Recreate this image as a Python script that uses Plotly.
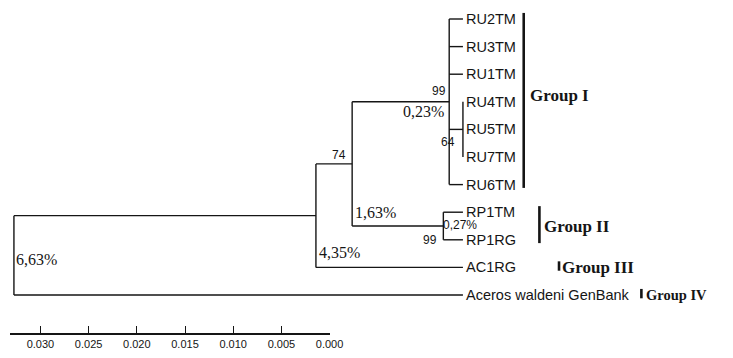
import plotly.graph_objects as go

# ---------------- data ----------------
leaves = ["RU2TM", "RU3TM", "RU1TM", "RU4TM", "RU5TM", "RU7TM", "RU6TM",
          "RP1TM", "RP1RG", "AC1RG", "Aceros waldeni GenBank"]

node_names = ["RU4-7", "RU", "RP", "N74", "N435", "root"]
node_depths = [0.0, 0.00143, 0.00204, 0.01153, 0.0153, 0.04673]
node_children = [
    ["RU4TM", "RU5TM", "RU7TM"],
    ["RU2TM", "RU3TM", "RU1TM", "RU4-7", "RU6TM"],
    ["RP1TM", "RP1RG"],
    ["RU", "RP"],
    ["N74", "AC1RG"],
    ["N435", "Aceros waldeni GenBank"],
]

bootstrap_nodes = ["RU", "RU4-7", "N74", "RP"]
bootstrap_values = ["99", "64", "74", "99"]

divergence_nodes = ["RU", "RP", "N74", "N435", "root"]
divergence_labels = ["0,23%", "0,27%", "1,63%", "4,35%", "6,63%"]

group_names = ["Group I", "Group II", "Group III", "Group IV"]
group_first = ["RU2TM", "RP1TM", "AC1RG", "Aceros waldeni GenBank"]
group_last = ["RU6TM", "RP1RG", "AC1RG", "Aceros waldeni GenBank"]

scale_ticks = [0.030, 0.025, 0.020, 0.015, 0.010, 0.005, 0.000]
scale_labels = ["0.030", "0.025", "0.020", "0.015", "0.010", "0.005", "0.000"]

# ---------------- geometry helpers ----------------
# The page body has an 8px margin; the figure is sized so that page == window.
OFF = 8
W, H = 733 - 2 * OFF, 358 - 2 * OFF


def px_x(p):
    return (p - OFF) / W


def px_y(p):
    return 1 - (p - OFF) / H


# ---------------- layout of tree ----------------
depth = {name: 0.0 for name in leaves}
ypos = {name: i for i, name in enumerate(leaves)}
children = {}
for n, d, ch in zip(node_names, node_depths, node_children):
    depth[n] = d
    children[n] = ch
    ypos[n] = (ypos[ch[0]] + ypos[ch[-1]]) / 2.0

xs, ys = [], []
for n in node_names:
    ch = children[n]
    xs += [depth[n], depth[n], None]
    ys += [ypos[ch[0]], ypos[ch[-1]], None]
    for c in ch:
        xs += [depth[n], depth[c], None]
        ys += [ypos[c], ypos[c], None]

INK = "#151515"
fig = go.Figure()
fig.add_trace(go.Scatter(x=xs, y=ys, mode="lines",
                         line=dict(color=INK, width=1.4),
                         hoverinfo="skip", showlegend=False))
# invisible trace carrying the scale axis
fig.add_trace(go.Scatter(x=scale_ticks, y=[ypos[leaves[-1]]] * len(scale_ticks),
                         xaxis="x2", yaxis="y", mode="markers",
                         marker=dict(opacity=0), hoverinfo="skip", showlegend=False))

ann = []
SANS = "Liberation Sans, Arial, sans-serif"
SERIF = "Liberation Serif, Times New Roman, serif"

for name in leaves:
    ann.append(dict(x=depth[name], y=ypos[name], text=name, xanchor="left",
                    yanchor="middle", xshift=1, showarrow=False,
                    font=dict(family=SANS, size=14.5, color=INK)))

bs_style = {
    "RU": dict(xanchor="right", yanchor="bottom", xshift=-1, yshift=2),
    "RU4-7": dict(xanchor="right", yanchor="top", xshift=-6, yshift=-4),
    "N74": dict(xanchor="right", yanchor="bottom", xshift=-4, yshift=0),
    "RP": dict(xanchor="right", yanchor="middle", xshift=-4, yshift=0, ydelta=0.5),
}
for n, v in zip(bootstrap_nodes, bootstrap_values):
    st = dict(bs_style[n])
    yd = st.pop("ydelta", 0)
    ann.append(dict(x=depth[n], y=ypos[n] + yd, text=v, showarrow=False,
                    font=dict(family=SANS, size=12, color=INK), **st))

div_style = {
    "RU": dict(xanchor="right", yanchor="top", xshift=-3, yshift=1, size=16, fam=SERIF, yd=0),
    "RP": dict(xanchor="left", yanchor="middle", xshift=-2, yshift=1, size=12, fam=SANS, yd=0),
    "N74": dict(xanchor="left", yanchor="bottom", xshift=1, yshift=3, size=16, fam=SERIF,
                yd=ypos["RP"] - ypos["N74"]),
    "N435": dict(xanchor="left", yanchor="bottom", xshift=1, yshift=4, size=16, fam=SERIF,
                 yd=ypos["AC1RG"] - ypos["N435"]),
    "root": dict(xanchor="left", yanchor="middle", xshift=0, yshift=-4, size=16, fam=SERIF,
                 yd=(ypos["N435"] + ypos[leaves[-1]]) / 2 - ypos["root"]),
}
for n, t in zip(divergence_nodes, divergence_labels):
    st = div_style[n]
    ann.append(dict(x=depth[n], y=ypos[n] + st["yd"], text=t, showarrow=False,
                    xanchor=st["xanchor"], yanchor=st["yanchor"],
                    xshift=st["xshift"], yshift=st["yshift"],
                    font=dict(family=st["fam"], size=st["size"], color=INK)))

# group bars and labels
group_bar_px = [534, 550, 570, 654]
group_font = [17, 17, 17, 14.5]
group_gap = [4, 3, 1, 3]
shapes = []
for g, f, l, bpx, fs, gp in zip(group_names, group_first, group_last, group_bar_px,
                                group_font, group_gap):
    bx = px_x(bpx)
    y0 = ypos[f] - 0.22
    y1 = ypos[l] + 0.12
    shapes.append(dict(type="line", xref="paper", yref="y", x0=bx, x1=bx,
                       y0=y0, y1=y1, line=dict(color=INK, width=2.6)))
    ym = (ypos[f] + ypos[l]) / 2
    ann.append(dict(xref="paper", yref="y", x=bx, y=ym, text="<b>%s</b>" % g,
                    xanchor="left", yanchor="middle", xshift=gp,
                    yshift=6 if g == "Group I" else 0, showarrow=False,
                    font=dict(family=SERIF, size=fs, color=INK)))

# tree axis: 9800 px per unit distance, tips at x=472 px; rows 27.6 px apart from y=19 px
PX_PER_UNIT = 9800.0
TIP_PX = 472.0
ROW0_PX, ROW_PX = 19.0, 27.6
x_left = (TIP_PX - OFF) / PX_PER_UNIT
x_right = -(W - (TIP_PX - OFF)) / PX_PER_UNIT
y_top = (OFF - ROW0_PX) / ROW_PX
y_bot = (H + OFF - ROW0_PX) / ROW_PX

fig.update_layout(
    width=W, height=H,
    margin=dict(l=0, r=0, t=0, b=0),
    paper_bgcolor="white", plot_bgcolor="rgba(0,0,0,0)",
    showlegend=False,
    xaxis=dict(range=[x_left, x_right], visible=False, domain=[0, 1]),
    yaxis=dict(range=[y_bot, y_top], visible=False, domain=[0, 1]),
    xaxis2=dict(range=[0.03316, 0.0], domain=[px_x(10), px_x(336)],
                anchor="free", position=px_y(334),
                showline=True, linecolor=INK, linewidth=1.6,
                ticks="inside", ticklen=7, tickwidth=1.3, tickcolor=INK,
                tickvals=scale_ticks, ticktext=scale_labels,
                tickfont=dict(family=SANS, size=11, color=INK),
                showgrid=False, zeroline=False),
    annotations=ann,
    shapes=shapes,
)

fig.write_html("out.html")
